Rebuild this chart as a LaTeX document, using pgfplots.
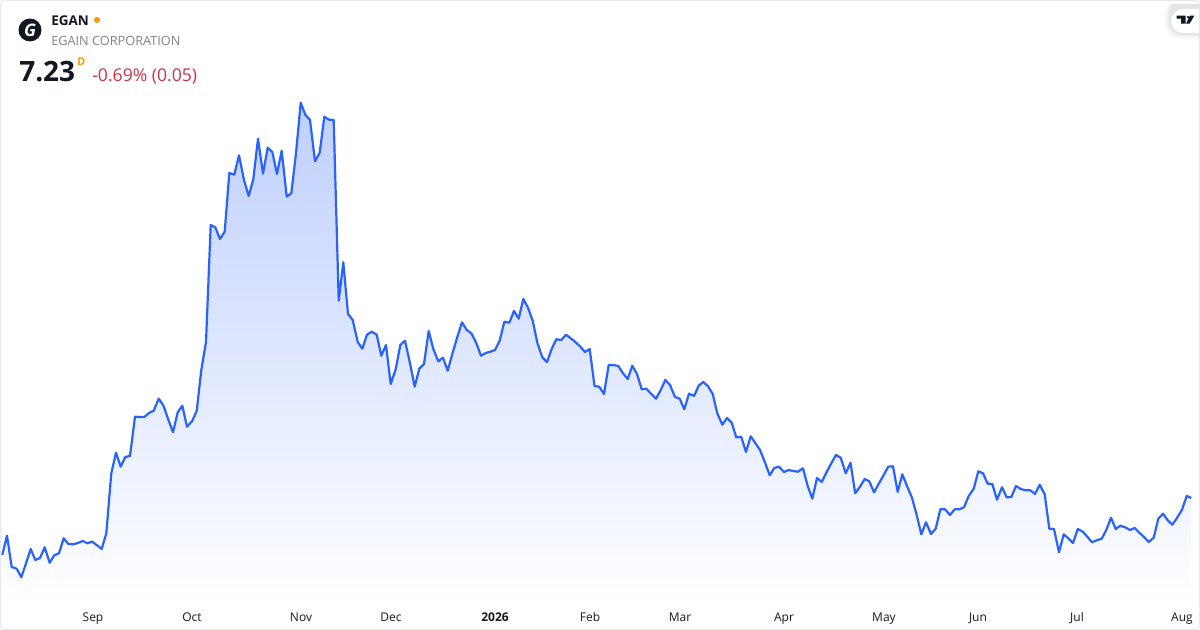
\documentclass[border=0pt]{standalone}
\usepackage{pgfplots}
\usepackage{pgfplotstable}
\usepackage{fontspec}
\pgfplotsset{compat=1.18}
\setmainfont{Open Sans}
\definecolor{tvblue}{HTML}{2962FF}
\definecolor{tvfill}{RGB}{191,208,255}
\definecolor{tvred}{HTML}{D0314A}
\definecolor{tvgray}{HTML}{7F838C}
\definecolor{tvink}{HTML}{131722}
\definecolor{tvorange}{HTML}{FF9800}
\definecolor{tvedge}{HTML}{E6E8EE}
% 1 px of the reference = 0.75pt; x and h are px, h measured up from the bottom edge
\pgfplotstableread{
x h
2.3 75
7 94.3
11.7 63
16.7 61.3
21.3 52.7
26 66.7
30.7 81
35.3 70
40 72
44.7 82.7
49.7 67.3
54.3 74.7
59 76.7
63.7 91.7
68.3 86
73.3 85.7
78 87
82.7 89
87.3 86.7
92 88.3
97 84.7
101.7 81
106.3 96.7
111.3 156.7
116 177.3
120.7 163.3
125.3 173
130 174
135 213.3
139.7 213
144.3 213
149 217
153.7 219.3
158.7 231.3
163.3 224.7
168 211.3
173 197.7
177.7 217.7
182.3 224.3
187 203.3
192 208.7
196.7 219
201.3 260
206 288
210.7 405
215.3 402.7
220 391
224.7 398.3
229.3 457
234.3 455.3
239 474.7
244 450
248.7 434
253.3 450.7
258 491.3
263 456.3
267.7 482.3
272.3 478
277 456
281.7 479.3
286.7 433.3
291.3 436.7
296 476.7
300.7 527.3
305.3 515.3
310 510
315 468.7
319.7 477.3
324.3 513.3
329 510.3
333.7 510
338.7 329.3
343.3 367.7
348 316
352.7 310
357.7 288
362.3 281.3
367 295.3
371.7 298.3
376.7 295.3
381.3 274.3
386 285
390.7 246
395.7 260.7
400.3 285
405 289.3
410 266.7
414.7 243.3
419.3 261.3
424 266
428.7 299
433.3 281
438.3 268.7
443 272.3
447.7 259.3
452.3 276
457 292
462 307.7
466.7 300
471.3 296.7
476 287.7
481 274.3
485.7 277
490.3 278.3
495 280
499.7 289.3
504.3 308.3
509.3 307.3
514 319
518.7 311.3
523.3 331
528 322.3
532.7 309.3
537.3 287.3
542.3 272.7
547 268
551.7 281
556.3 290.7
561.3 290
566 295.3
570.7 291.7
575.3 288
580 283.7
585 278
589.7 281
594.5 244
599.2 243.3
604 236
608.7 265
613.3 265
618.3 264
623 256.7
627.7 251
632.3 264.3
637 256
641.7 240.7
646.3 241.3
651.3 236
656 231.3
660.7 240
665.3 250
670 245
675 233
679.7 231.3
684.3 220.7
689 236.3
694 234
698.7 244.3
703.3 248
708 243.7
712.7 236
717.3 216.7
722.3 205.3
727 212
731.7 207.3
736.3 192.7
741.3 193
746 178
750.7 193.7
755.3 187
760 180
764.7 168.3
769.7 154.7
774.3 162
779 163.3
784 158
788.7 160
793.3 159
798 158.3
803 161.7
807.7 144
812.3 131.3
817 152
821.7 148
826.3 157.3
831.3 166.7
836 175
840.7 172.3
845.7 156.7
850.5 167.3
855.2 136.7
860 143.3
864.7 151
869.3 148.7
874 137.7
879 146.7
883.7 155
888.3 163.3
893 163.7
897.7 138
902.3 155.7
907.3 143.3
912 132.3
916.7 115
921.3 95.7
926 107.7
931 96
935.7 101.3
940.3 120.7
945 120.7
950 115
954.7 120.7
959.3 120.7
964 122.7
968.7 134
973.7 141.3
978.3 158.7
983 156.7
987.7 146.3
992.3 146
997 130.3
1002 142.7
1006.7 132.7
1011.3 133
1016 144
1020.7 141
1025.7 139.7
1030.3 139.7
1035 136
1039.7 145.3
1044.7 135.7
1049.3 101.3
1054 101
1059 77.7
1063.7 95.7
1068.3 91.7
1073 87
1077.7 101
1082.7 98.3
1087.3 93.3
1092 87.7
1096.7 89.7
1101.7 91.3
1106.3 100
1111 112.3
1115.7 101
1120.3 104.3
1125 102.7
1130 100
1134.7 102
1139.3 97.3
1144 93
1148.7 88
1153.7 92.3
1158.3 111.3
1163 116.3
1167.7 109.7
1172.3 105.3
1177 112
1182 120.3
1186.7 134
1191.3 132
}\egan

\begin{document}
\begin{tikzpicture}
\useasboundingbox (0,0) rectangle (900pt,472.5pt);
\begin{axis}[
  at={(0,0)}, anchor=south west,
  scale only axis, width=900pt, height=472.5pt,
  xmin=0, xmax=1200, ymin=0, ymax=630,
  axis line style={draw=none}, major tick length=0pt,
  ytick=\empty,
  xtick={93,192,301,391,495,590,680,784,884,978,1077,1182},
  xticklabels={Sep,Oct,Nov,Dec,\textbf{2026},Feb,Mar,Apr,May,Jun,Jul,Aug},
  x tick label style={anchor=base, yshift=6pt, font=\fontsize{9}{11}\selectfont, text=tvink},
  clip=false,
]
% area under the line
\addplot[draw=none, top color=tvfill, bottom color=white, shading angle=0] table[x=x,y=h] {\egan}
  -- (axis cs:1191.3,25) -- (axis cs:2.3,25) -- cycle;
\addplot[tvblue, line width=1.65pt, line join=round] table[x=x,y=h] {\egan};

% frame
\draw[tvedge, line width=0.75pt, rounded corners=3pt] (axis cs:0.5,0.5) rectangle (axis cs:1199.5,629.5);

% header
\fill[tvink] (axis cs:30,600) circle (8.6pt);
\node[white, font=\fontsize{13}{13}\selectfont\bfseries\itshape] at (axis cs:30,600) {G};
\node[anchor=base west, inner sep=0, text=tvink, font=\fontsize{10.1}{12}\selectfont\bfseries] at (axis cs:51,604) {EGAN};
\fill[tvorange] (axis cs:97,610) circle (2.3pt);
\node[anchor=base west, inner sep=0, text=tvgray, font=\fontsize{9.55}{12}\selectfont] at (axis cs:51,584.3) {EGAIN CORPORATION};
\node[anchor=base west, inner sep=0, text=tvink, font=\fontsize{21}{24}\selectfont\bfseries] at (axis cs:19,548.2) {7.23};
\node[anchor=base west, inner sep=0, text=tvorange, font=\fontsize{8}{10}\selectfont\bfseries] at (axis cs:77,564) {D};
\node[anchor=base west, inner sep=0, text=tvred, font=\fontsize{13.2}{15}\selectfont] at (axis cs:92,548.2) {-0.69\% (0.05)};

% logo badge, soft shadow stacked under a white pill
\begin{scope}
\clip (axis cs:1140,590) rectangle (axis cs:1199,625);
\fill[black, opacity=0.02, rounded corners=10pt] (axis cs:1165,591) rectangle (axis cs:1230,630);
\fill[black, opacity=0.025, rounded corners=10pt] (axis cs:1166.5,592.5) rectangle (axis cs:1230,630);
\fill[black, opacity=0.03, rounded corners=10pt] (axis cs:1168,594) rectangle (axis cs:1230,630);
\fill[black, opacity=0.04, rounded corners=10pt] (axis cs:1169.5,595.5) rectangle (axis cs:1230,630);
\fill[white, rounded corners=9pt] (axis cs:1171,597) rectangle (axis cs:1230,621);
\end{scope}
\fill[tvink] (axis cs:1176.7,614.3) -- (axis cs:1185.7,614.3) -- (axis cs:1185.7,606.3) -- (axis cs:1181,606.3) -- (axis cs:1181,611.4) -- (axis cs:1176.7,611.4) -- cycle;
\fill[tvink] (axis cs:1188.2,612.8) circle (1.1pt);
\fill[tvink] (axis cs:1190,614.3) -- (axis cs:1194.3,614.3) -- (axis cs:1189.6,606.3) -- (axis cs:1186,606.3) -- cycle;
\end{axis}
\end{tikzpicture}
\end{document}
